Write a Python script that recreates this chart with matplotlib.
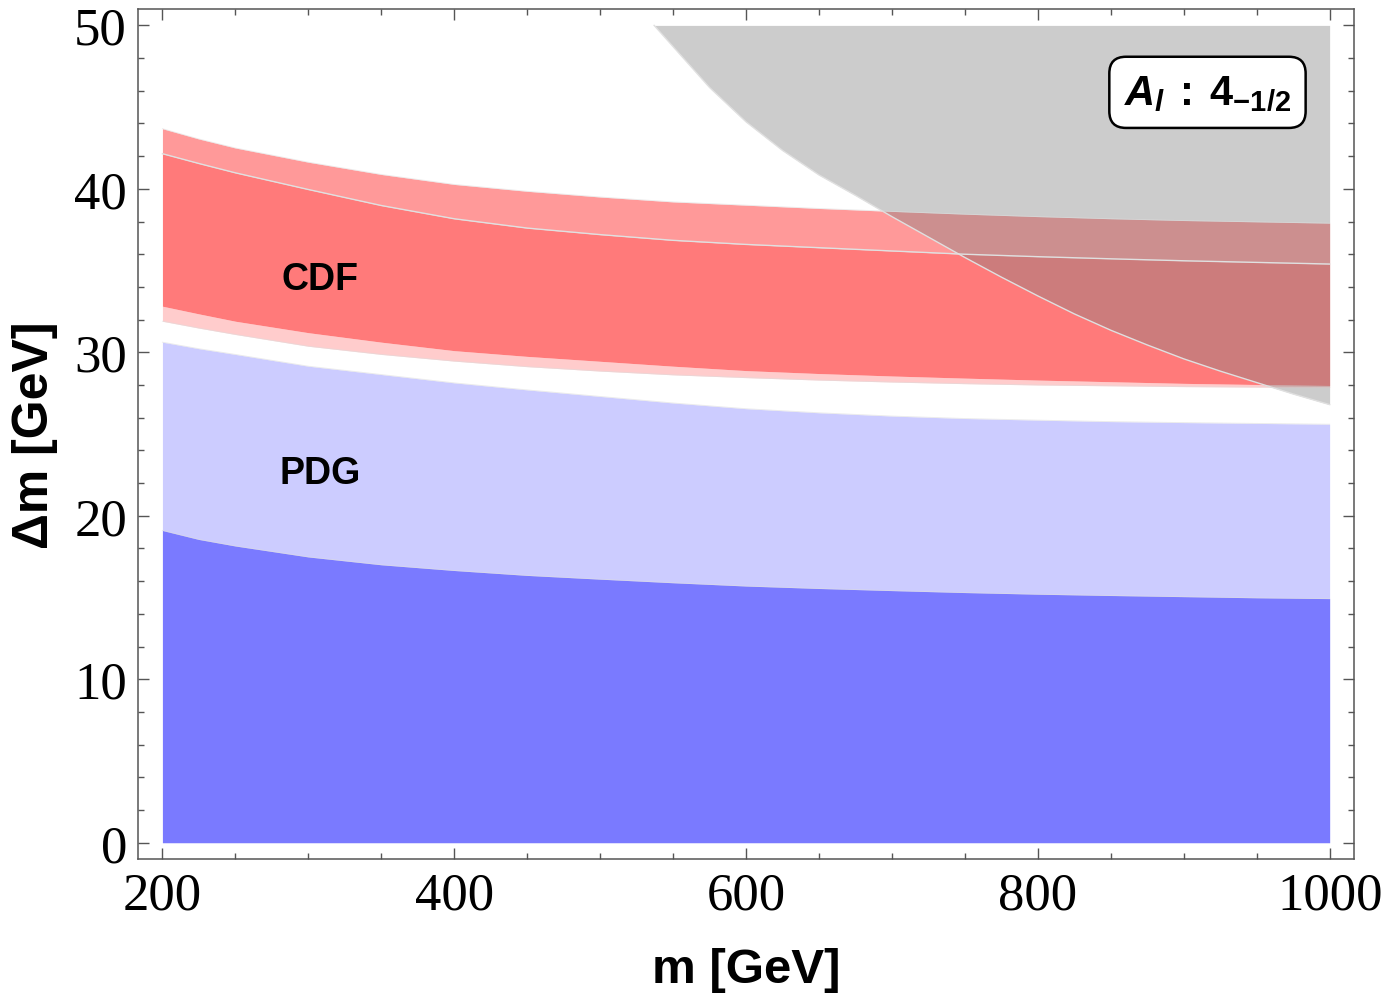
import matplotlib
matplotlib.use('Agg')
import matplotlib.pyplot as plt
from matplotlib.ticker import MultipleLocator

# values (m in GeV, delta m in GeV)
m = [200, 225, 250, 300, 350, 400, 450, 500, 550, 600, 650, 700, 750, 800, 850, 900, 950, 1000]

cdf_outer_hi = [43.68, 43.05, 42.5, 41.63, 40.88, 40.27, 39.85, 39.5, 39.2, 39.0, 38.8, 38.62,
                38.45, 38.3, 38.17, 38.06, 37.98, 37.9]
cdf_inner_hi = [42.15, 41.55, 40.98, 39.96, 38.98, 38.17, 37.6, 37.2, 36.85, 36.6, 36.4, 36.2,
                36.0, 35.85, 35.72, 35.6, 35.5, 35.4]
cdf_inner_lo = [32.82, 32.35, 31.9, 31.2, 30.62, 30.1, 29.75, 29.45, 29.15, 28.88, 28.7, 28.55,
                28.42, 28.3, 28.2, 28.1, 28.03, 27.97]
cdf_outer_lo = [31.9, 31.48, 31.09, 30.37, 29.87, 29.46, 29.12, 28.85, 28.62, 28.45, 28.3, 28.18,
                28.08, 28.0, 27.95, 27.9, 27.87, 27.85]

pdg_outer_hi = [30.62, 30.22, 29.87, 29.15, 28.64, 28.13, 27.7, 27.3, 26.9, 26.55, 26.3, 26.1,
                25.95, 25.85, 25.76, 25.7, 25.65, 25.6]
pdg_inner_hi = [19.1, 18.55, 18.15, 17.48, 17.0, 16.65, 16.35, 16.12, 15.9, 15.7, 15.55, 15.42,
                15.3, 15.2, 15.12, 15.05, 14.98, 14.93]

# excluded (gray) region: lower boundary, up to dm = 50
gray_m = [537, 550, 575, 600, 625, 650, 675, 700, 725, 750, 775, 800, 825, 850, 875, 900, 925,
          950, 975, 1000]
gray_lo = [50, 48.7, 46.2, 44.1, 42.35, 40.85, 39.6, 38.3, 37.05, 35.8, 34.6, 33.45, 32.35,
           31.35, 30.45, 29.6, 28.85, 28.15, 27.45, 26.8]

fig = plt.figure(figsize=(13.89, 10.04), dpi=100)
ax = fig.add_axes([0.0994, 0.1434, 0.8754, 0.8466])

# PDG bands
ax.fill_between(m, 0, pdg_outer_hi, color='#ccccff', lw=0)
ax.fill_between(m, 0, pdg_inner_hi, color='#7a7aff', lw=0)

# CDF bands
ax.fill_between(m, cdf_outer_lo, cdf_inner_lo, color='#ffcccc', lw=0)
ax.fill_between(m, cdf_inner_hi, cdf_outer_hi, color='#ff9999', lw=0)
ax.fill_between(m, cdf_inner_lo, cdf_inner_hi, color='#ff7a7a', lw=0)

# gray region on top
ax.fill_between(gray_m, gray_lo, 50, color='#808080', alpha=0.4, lw=0)

# thin boundary lines
ax.plot(m, cdf_inner_hi, color='#e0e0e0', lw=1.0)
ax.plot(gray_m, gray_lo, color='#e0e0e0', lw=1.0)
for edge in (cdf_outer_hi, cdf_outer_lo, pdg_outer_hi, pdg_inner_hi):
    ax.plot(m, edge, color='#dddddd', lw=0.6, alpha=0.6)

ax.set_xlim(183.3, 1016.7)
ax.set_ylim(-1, 51)

ax.xaxis.set_major_locator(MultipleLocator(200))
ax.xaxis.set_minor_locator(MultipleLocator(50))
ax.yaxis.set_major_locator(MultipleLocator(10))
ax.yaxis.set_minor_locator(MultipleLocator(2))
ax.tick_params(which='both', direction='in', top=True, right=True, color='#555555', width=1.0)
ax.tick_params(which='major', length=8)
ax.tick_params(which='minor', length=4.5)
ax.tick_params(axis='x', which='major', pad=9)
ax.tick_params(axis='y', which='major', pad=8)

for sp in ax.spines.values():
    sp.set_color('#555555')
    sp.set_linewidth(1.1)

for lab in ax.get_xticklabels() + ax.get_yticklabels():
    lab.set_fontfamily('Liberation Serif')
    lab.set_fontsize(38)

ax.set_xlabel('m [GeV]', family='Liberation Sans', fontweight='bold', fontsize=35.5, labelpad=20)
ax.set_ylabel('Δm [GeV]', family='Liberation Sans', fontweight='bold', fontsize=36, labelpad=12)

ax.text(308, 34.5, 'CDF', family='Liberation Sans', fontweight='bold', fontsize=27,
        ha='center', va='center')
ax.text(308, 22.6, 'PDG', family='Liberation Sans', fontweight='bold', fontsize=27,
        ha='center', va='center')

plt.rcParams['mathtext.fontset'] = 'custom'
plt.rcParams['mathtext.rm'] = 'Liberation Sans:bold'
plt.rcParams['mathtext.bf'] = 'Liberation Sans:bold'
plt.rcParams['mathtext.it'] = 'Liberation Sans:bold:italic'
plt.rcParams['mathtext.bfit'] = 'Liberation Sans:bold:italic'
ax.text(0.8795, 0.902, r'$\mathit{A}_{\mathit{l}}\:\mathrm{:}\:\mathrm{4}_{\mathrm{-1/2}}$',
        transform=ax.transAxes, fontsize=30, ha='center', va='center',
        bbox=dict(boxstyle='round,pad=0.35,rounding_size=0.4', fc='white', ec='black', lw=1.8))

fig.savefig('out.png', dpi=100)
